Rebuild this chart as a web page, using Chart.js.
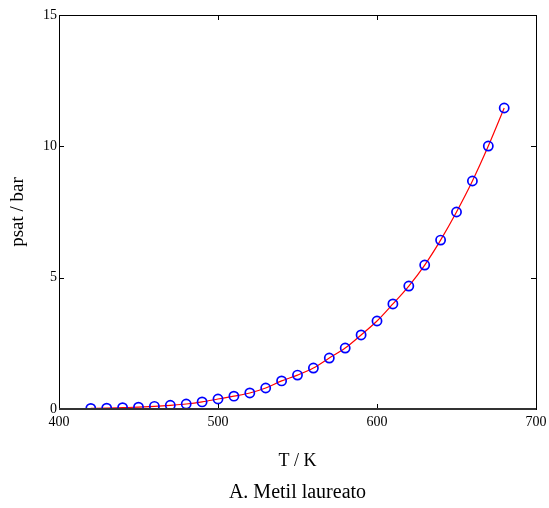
<!DOCTYPE html>
<html>
<head>
<meta charset="utf-8">
<script src="https://cdn.jsdelivr.net/npm/chart.js@4.4.1/dist/chart.umd.min.js"></script>
<style>
  html, body { margin: 0; padding: 0; background: #fff; }
  #wrap { width: 549px; height: 508px; }
</style>
</head>
<body>
<div id="wrap"><canvas id="psatChart"></canvas></div>
<script>
// Saturation pressure of methyl laurate vs temperature
const temps = [420, 430, 440, 450, 460, 470, 480, 490, 500, 510, 520, 530, 540, 550,
               560, 570, 580, 590, 600, 610, 620, 630, 640, 650, 660, 670, 680];
const psat = [0.02, 0.03, 0.05, 0.07, 0.10, 0.14, 0.19, 0.27, 0.38, 0.49, 0.61, 0.80, 1.07, 1.29,
              1.56, 1.94, 2.32, 2.82, 3.35, 4.00, 4.68, 5.48, 6.43, 7.50, 8.68, 10.01, 11.46];
const xTicks = [400, 500, 600, 700];
const yTicks = [0, 5, 10, 15];

const points = temps.map((t, i) => ({ x: t, y: psat[i] }));

// Box around the plot area with short inward tick marks on all four sides
const framePlugin = {
    id: 'frame',
    afterDraw(chart) {
        const { ctx, chartArea: a, scales } = chart;
        const len = 5;
        ctx.save();
        ctx.strokeStyle = '#000';
        ctx.lineWidth = 1;
        ctx.strokeRect(a.left + 0.5, a.top + 0.5, a.right - a.left, a.bottom - a.top);
        ctx.beginPath();
        xTicks.slice(1, -1).forEach(v => {
            const px = Math.round(scales.x.getPixelForValue(v)) + 0.5;
            ctx.moveTo(px, a.bottom); ctx.lineTo(px, a.bottom - len);
            ctx.moveTo(px, a.top); ctx.lineTo(px, a.top + len);
        });
        yTicks.slice(1, -1).forEach(v => {
            const py = Math.round(scales.y.getPixelForValue(v)) + 0.5;
            ctx.moveTo(a.left, py); ctx.lineTo(a.left + len, py);
            ctx.moveTo(a.right, py); ctx.lineTo(a.right - len, py);
        });
        ctx.stroke();
        // bottom axis is a bit heavier
        ctx.strokeStyle = '#333';
        ctx.lineWidth = 2;
        ctx.beginPath();
        ctx.moveTo(a.left, a.bottom);
        ctx.lineTo(a.right, a.bottom);
        ctx.stroke();
        ctx.restore();
    }
};

const serif = 'Liberation Serif';

new Chart(document.getElementById('psatChart').getContext('2d'), {
    type: 'scatter',
    data: {
        datasets: [
            {
                type: 'scatter',
                data: points,
                showLine: false,
                clip: 0,
                pointStyle: 'circle',
                pointRadius: 4.6,
                pointBorderWidth: 1.7,
                pointBorderColor: '#0000ff',
                pointBackgroundColor: 'rgba(0,0,0,0)'
            },
            {
                type: 'line',
                data: points,
                clip: 0,
                borderColor: '#ff0000',
                borderWidth: 1.2,
                pointRadius: 0,
                fill: false,
                cubicInterpolationMode: 'monotone'
            }
        ]
    },
    options: {
        responsive: true,
        maintainAspectRatio: false,
        animation: false,
        layout: { padding: { left: 0, right: 13, top: 15, bottom: 0 } },
        plugins: {
            legend: { display: false },
            tooltip: { enabled: false },
            title: {
                display: true,
                position: 'bottom',
                fullSize: false,
                text: 'A. Metil laureato',
                color: '#000',
                font: { family: serif, size: 20, weight: 'normal' },
                padding: { top: 7, bottom: 3 }
            }
        },
        scales: {
            x: {
                type: 'linear',
                min: 400,
                max: 700,
                afterBuildTicks: s => { s.ticks = xTicks.map(v => ({ value: v })); },
                afterFit: s => { s.height = 65; s.paddingLeft = 0; s.paddingRight = 0; },
                grid: { display: false, drawTicks: false },
                border: { display: false },
                ticks: { color: '#000', padding: 5, maxRotation: 0, font: { family: serif, size: 14 } },
                title: {
                    display: true,
                    text: 'T / K',
                    color: '#000',
                    font: { family: serif, size: 18 },
                    padding: { top: 0, bottom: 2 }
                }
            },
            y: {
                type: 'linear',
                min: 0,
                max: 15,
                afterBuildTicks: s => { s.ticks = yTicks.map(v => ({ value: v })); },
                afterFit: s => { s.width = 59; s.paddingTop = 0; s.paddingBottom = 0; },
                grid: { display: false, drawTicks: false },
                border: { display: false },
                ticks: { color: '#000', padding: 2, font: { family: serif, size: 14 } },
                title: {
                    display: true,
                    text: 'psat / bar',
                    color: '#000',
                    font: { family: serif, size: 19 },
                    padding: { top: 7, bottom: 0 }
                }
            }
        }
    },
    plugins: [framePlugin]
});
</script>
</body>
</html>
